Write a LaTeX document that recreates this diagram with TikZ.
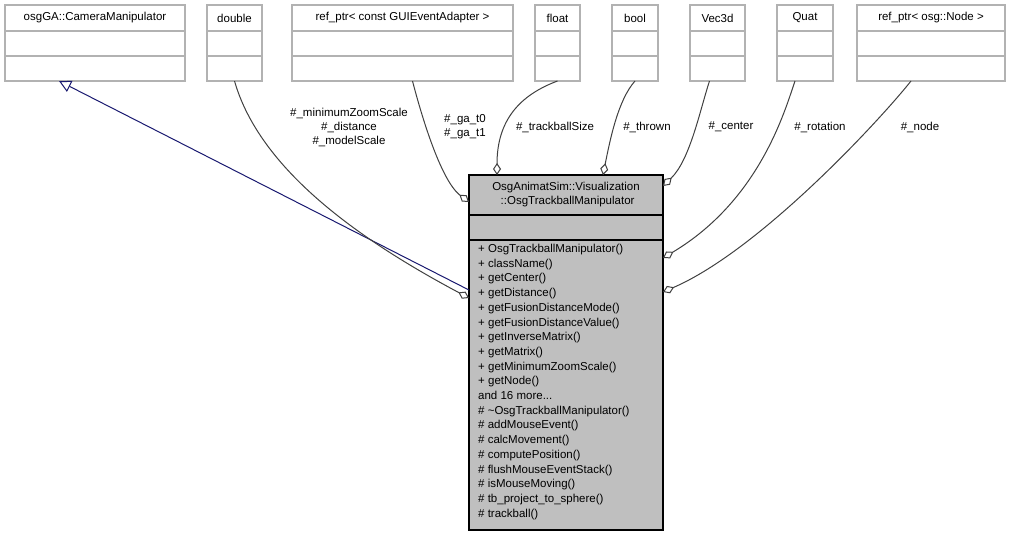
\documentclass[tikz,border=0pt]{standalone}
\usepackage{fontspec}
\setmainfont{Liberation Sans}
\usetikzlibrary{arrows.meta,positioning}
\definecolor{boxgray}{HTML}{BFBFBF}
\definecolor{edgegray}{HTML}{404040}
\definecolor{inhblue}{HTML}{191970}
\tikzset{
  cls/.style={draw=black!30,line width=1.2pt},
  lbl/.style={font=\fontsize{11.5}{14}\selectfont,align=center,inner sep=0pt},
  use/.style={edgegray,line width=1pt,{Diamond[open,fill=white,length=12pt,width=8pt,line width=1pt]}-},
  inh/.style={inhblue,line width=1pt,{Triangle[open,fill=white,length=12pt,width=12pt,line width=1pt]}-},
}
\begin{document}
\begin{tikzpicture}[x=1pt,y=-1pt]
\useasboundingbox (0,0) rectangle (1010,536);
% used classes along the top
\foreach \n/\l/\r/\t in {cam/5/185/osgGA::CameraManipulator,
  dbl/207/262/double,
  gui/292/513/ref\_ptr< const GUIEventAdapter >,
  flt/535/580/float,
  bol/612/658/bool,
  vec/690/745/Vec3d,
  qat/777/833/Quat,
  nod/857/1005/ref\_ptr< osg::Node >}{
  \draw[cls] (\l,5) rectangle (\r,81);
  \draw[cls] (\l,31) -- (\r,31);
  \draw[cls] (\l,56) -- (\r,56);
  \node[lbl] (\n) at ({(\l+\r)/2},18) {\t};
  \coordinate (\n-b) at ({(\l+\r)/2},81);
}
% the main class
\draw[fill=boxgray,line width=1.2pt] (469,175) rectangle (663,530);
\draw[line width=1.2pt] (469,215) -- (663,215);
\draw[line width=1.2pt] (469,240) -- (663,240);
\node[lbl] (main) at (566,195) {OsgAnimatSim::Visualization\\\;::OsgTrackballManipulator};
\node[lbl,anchor=north west,align=left,font=\fontsize{11.5}{14.7}\selectfont] (ops) at (478,244) {%
+ OsgTrackballManipulator()\\
+ className()\\
+ getCenter()\\
+ getDistance()\\
+ getFusionDistanceMode()\\
+ getFusionDistanceValue()\\
+ getInverseMatrix()\\
+ getMatrix()\\
+ getMinimumZoomScale()\\
+ getNode()\\
and 16 more...\\
\# \textasciitilde OsgTrackballManipulator()\\
\# addMouseEvent()\\
\# calcMovement()\\
\# computePosition()\\
\# flushMouseEventStack()\\
\# isMouseMoving()\\
\# tb\_project\_to\_sphere()\\
\# trackball()};
% anchor points on the main class
\coordinate (m-inh) at (469,290);
\coordinate (m-dbl) at (469,298);
\coordinate (m-gui) at (469,202);
\coordinate (m-flt) at (497,175);
\coordinate (m-bol) at (603,175);
\coordinate (m-vec) at (663,186);
\coordinate (m-qat) at (663,258);
\coordinate (m-nod) at (663,292);
% connectors
\draw[inh] ([xshift=-36pt]cam-b) -- (m-inh);
\draw[use] (m-dbl) .. controls (360,240) and (260,170) .. ([xshift=-0pt]dbl-b);
\draw[use] (m-gui) .. controls (440,180) and (420,110) .. ([xshift=10pt]gui-b);
\draw[use] (m-flt) .. controls (497,120) and (520,95) .. (flt-b);
\draw[use] (m-bol) .. controls (610,140) and (618,100) .. (bol-b);
\draw[use] (m-vec) .. controls (690,160) and (700,110) .. ([xshift=-8pt]vec-b);
\draw[use] (m-qat) .. controls (760,200) and (785,110) .. ([xshift=-10pt]qat-b);
\draw[use] (m-nod) .. controls (760,250) and (880,120) .. ([xshift=-20pt]nod-b);
% connector labels
\node[lbl] (l-dbl) at (349,127) {\#\_minimumZoomScale\\\#\_distance\\\#\_modelScale};
\node[lbl] (l-gui) at (465,127) {\#\_ga\_t0\\\#\_ga\_t1};
\node[lbl] (l-flt) at (555,127) {\#\_trackballSize};
\node[lbl] (l-bol) at (647,127) {\#\_thrown};
\node[lbl] (l-vec) at (731,127) {\#\_center};
\node[lbl] (l-qat) at (820,127) {\#\_rotation};
\node[lbl] (l-nod) at (920,127) {\#\_node};
\end{tikzpicture}
\end{document}
